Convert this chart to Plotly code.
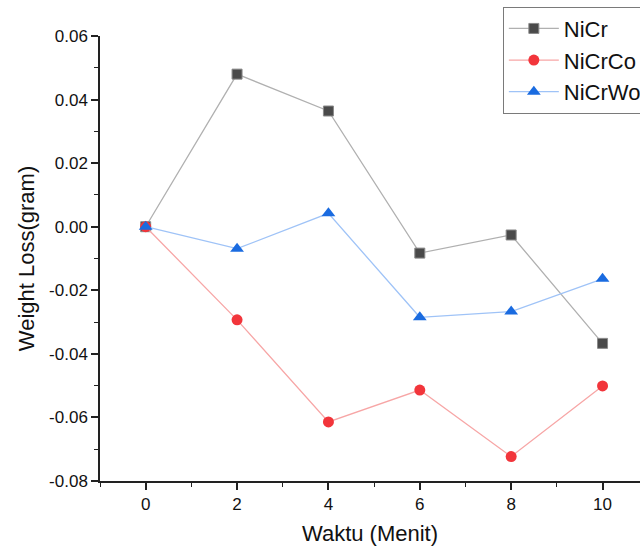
import plotly.graph_objects as go

waktu = [0, 2, 4, 6, 8, 10]
nicr = [0.0, 0.0480, 0.0364, -0.0083, -0.0026, -0.0367]
nicrco = [0.0, -0.0293, -0.0614, -0.0514, -0.0723, -0.0501]
nicrwo = [0.0, -0.0069, 0.0042, -0.0285, -0.0267, -0.0164]

x_ticks = [0, 2, 4, 6, 8, 10]
y_ticks = [-0.08, -0.06, -0.04, -0.02, 0.00, 0.02, 0.04, 0.06]
y_tick_text = ["-0.08", "-0.06", "-0.04", "-0.02", "0.00", "0.02", "0.04", "0.06"]

FONT = "Liberation Sans, Arial, sans-serif"

fig = go.Figure()
fig.add_trace(go.Scatter(
    x=waktu, y=nicr, name="NiCr", mode="lines+markers",
    line=dict(color="#b0b0b0", width=1.3),
    marker=dict(symbol="square", size=10, color="#4a4a4a", line=dict(color="#8a8a8a", width=1)),
))
fig.add_trace(go.Scatter(
    x=waktu, y=nicrco, name="NiCrCo", mode="lines+markers",
    line=dict(color="#f7a6a6", width=1.3),
    marker=dict(symbol="circle", size=11, color="#f2353b", line=dict(width=0)),
))
fig.add_trace(go.Scatter(
    x=waktu, y=nicrwo, name="NiCrWo", mode="lines+markers",
    line=dict(color="#9fc3f7", width=1.3),
    marker=dict(symbol="triangle-up", size=12, color="#1a6be0", line=dict(width=0)),
))

axis_font = dict(family=FONT, size=17, color="#111111")
title_font = dict(family=FONT, size=22, color="#111111")

fig.update_layout(
    width=640, height=552,
    paper_bgcolor="white", plot_bgcolor="white",
    margin=dict(l=100, r=0, t=36, b=71, autoexpand=False),
    font=dict(family=FONT, color="#111111"),
    showlegend=True,
    legend=dict(
        x=0.746, y=1.066, xanchor="left", yanchor="top",
        bgcolor="white", bordercolor="#7a7a7a", borderwidth=1,
        font=dict(family=FONT, size=22, color="#111111"),
        itemwidth=50, tracegroupgap=0,
    ),
    xaxis=dict(
        range=[-1, 10.82], tickvals=x_ticks, ticks="outside", ticklen=7, tickwidth=1.5,
        tickcolor="#222222", showline=True, linecolor="#222222", linewidth=1.5,
        showgrid=False, zeroline=False, tickfont=axis_font,
        minor=dict(dtick=1, tick0=1, ticks="outside", ticklen=4, tickwidth=1.2, tickcolor="#222222", showgrid=False),
        title=dict(text="Waktu (Menit)", font=title_font, standoff=12),
    ),
    yaxis=dict(
        range=[-0.08, 0.06], tickvals=y_ticks, ticktext=y_tick_text, ticks="outside", ticklen=7, tickwidth=1.5,
        tickcolor="#222222", showline=True, linecolor="#222222", linewidth=1.5,
        showgrid=False, zeroline=False, tickfont=axis_font,
        minor=dict(dtick=0.01, tick0=-0.07, ticks="outside", ticklen=4, tickwidth=1.2, tickcolor="#222222", showgrid=False),
        title=dict(text="Weight Loss(gram)", font=title_font, standoff=8),
    ),
)

fig.write_html("out.html")
